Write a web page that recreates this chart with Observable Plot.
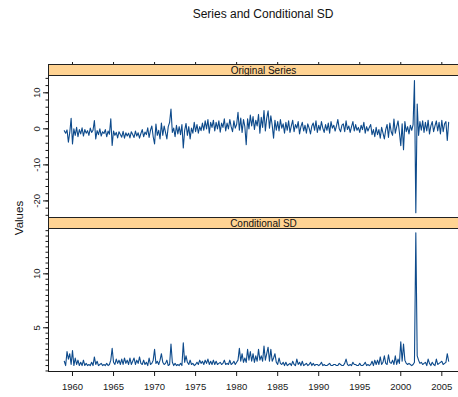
<!DOCTYPE html>
<html><head><meta charset="utf-8">
<script src="https://cdn.jsdelivr.net/npm/d3@7"></script>
<script src="https://cdn.jsdelivr.net/npm/@observablehq/plot@0.6"></script>
<style>
html,body{margin:0;padding:0;background:#fff;overflow:hidden}
#chart{position:relative;width:458px;height:397px;overflow:hidden;font-family:"Liberation Sans",Arial,Helvetica,sans-serif;color:#111}
#chart svg{position:absolute;left:0;overflow:visible;max-width:none !important}
.strip{position:absolute;left:48px;width:431px;height:12px;box-sizing:border-box;border:1px solid #222;background:#ffd393;font-size:10px;line-height:10px;text-align:center;padding-top:1px;white-space:nowrap;z-index:2}
#title{position:absolute;left:48px;width:430px;top:7.5px;text-align:center;font-size:12px;line-height:12px;white-space:nowrap}
#ylab{position:absolute;left:19px;top:218px;transform:translate(-50%,-50%) rotate(-90deg);font-size:11.5px;white-space:nowrap}
</style></head>
<body>
<div id="chart">
  <div id="title"></div>
  <div id="ylab"></div>
</div>
<script>
// ---- data (bi-monthly readings, 6 per year, starting 1959) ----
const startYear = 1959;
const perYear = 6;
const original = [
  -0.5,-1.2,-0.3,-3.7,-1.0, 2.9,  // 1959
  -4.2, 0.0,-1.8, 0.4,-2.2,-0.2,  // 1960
  -1.4, 0.3,-2.0,-0.2,-1.2,-0.5,  // 1961
  -1.8, 0.2,-1.0,-0.4, 2.3,-2.8,  // 1962
  -0.5,-1.6, 0.0,-2.0,-0.8,-1.3,  // 1963
  -0.2,-2.2,-0.6,-1.5, 2.8,-4.6,  // 1964
  -0.6,-1.8,-1.0,-2.5,-0.8,-1.6,  // 1965
  -2.3,-0.7,-2.6,-1.1,-2.0,-1.2,  // 1966
  -2.5,-0.8,-1.6,-2.4,-0.6,-2.0,  // 1967
  -1.1,-2.6,-1.3,-0.2,-2.2,-0.9,  // 1968
  -1.6, 0.3,-2.4,-0.4, 0.8,-2.2,  // 1969
  -4.2, 1.3,-1.8,-0.4,-2.8, 1.6,  // 1970
  -1.8, 0.8,-1.0,-2.8, 0.6, 1.8,  // 1971
   5.5,-1.0, 0.2,-2.2, 1.0,-1.4,  // 1972
   0.6,-1.6, 1.2,-5.3,-0.4, 1.5,  // 1973
  -1.8, 0.6,-2.8, 0.2,-1.2, 1.8,  // 1974
  -0.8, 1.2,-1.2, 0.6,-0.5, 1.6,  // 1975
  -0.4, 2.2, 0.0, 2.6,-1.2, 1.8,  // 1976
   0.4, 2.4,-0.6, 1.8, 0.0, 2.2,  // 1977
  -0.9, 1.6, 0.4, 2.8,-0.6, 1.6,  // 1978
   0.0, 2.6, 0.6,-0.8, 2.2, 0.2,  // 1979
   1.2, 4.6,-0.4, 3.0,-1.0, 2.6,  // 1980
   0.6,-4.4, 2.8, 0.0, 3.8, 0.8,  // 1981
   3.4,-0.2, 2.4, 0.8, 4.0,-1.2,  // 1982
   3.2, 0.4, 5.1,-0.6, 3.0, 5.0,  // 1983
   0.2, 3.6, 1.0,-2.6, 2.4,-0.4,  // 1984
   2.0,-0.6, 2.6, 0.2, 1.4,-1.2,  // 1985
   1.8,-0.4, 2.2,-1.0, 0.8, 2.4,  // 1986
  -0.8, 1.2, 0.2, 2.0,-1.4, 0.6,  // 1987
   1.8,-0.6, 1.0,-1.2, 1.4, 0.2,  // 1988
  -1.4, 0.8, 1.6,-0.4, 2.2,-1.0,  // 1989
   1.0,-0.4, 2.0, 0.2,-1.0, 1.2,  // 1990
  -0.4, 1.6,-1.2, 2.0, 0.2, 1.0,  // 1991
  -0.6, 0.8, 2.6, 0.0,-0.8, 1.0,  // 1992
   1.4,-0.8, 2.2,-0.2, 0.8,-1.0,  // 1993
   0.6, 2.0,-0.6, 1.2,-0.4, 0.4,  // 1994
  -1.0, 1.0,-0.2, 1.8,-1.2, 0.6,  // 1995
  -0.6, 0.4, 1.2,-1.6,-0.2,-2.2,  // 1996
   0.4,-1.6,-0.2,-2.6, 0.4,-1.2,  // 1997
  -2.8,-0.2, 1.2,-2.4, 1.6,-0.8,  // 1998
  -1.8, 2.7,-1.2, 0.6, 2.2,-1.0,  // 1999
  -4.7, 1.4,-5.8, 2.0,-0.8, 0.6,  // 2000
  -1.4, 1.0,-0.4, 1.2,13.4,-23.3, // 2001
   6.9,-1.8, 2.0,-0.4, 2.2,-1.0,  // 2002
   1.8,-0.6, 2.4,-1.4, 0.8, 2.0,  // 2003
  -0.8, 0.8, 2.2,-0.6, 1.8,-1.4,  // 2004
   2.4,-0.8, 1.4, 2.0,-3.2, 1.8   // 2005
];
const condSD = [
  1.9,1.5,2.8,2.1,2.6,1.6,  // 1959
  2.9,1.5,2.2,1.6,2.0,1.5,  // 1960
  1.8,1.5,2.0,1.5,1.7,1.5,  // 1961
  1.6,1.5,1.8,1.5,2.3,1.6,  // 1962
  1.9,1.5,1.6,1.7,1.5,1.6,  // 1963
  1.5,1.7,1.5,1.6,2.0,3.1,  // 1964
  1.8,1.6,2.1,1.7,2.0,1.6,  // 1965
  2.1,1.6,2.2,1.7,2.0,1.6,  // 1966
  2.2,1.6,1.9,2.2,1.6,2.0,  // 1967
  1.7,2.3,1.7,1.6,2.0,1.6,  // 1968
  1.8,1.5,2.2,1.6,1.7,2.0,  // 1969
  3.0,1.7,1.9,1.6,2.0,2.6,  // 1970
  1.8,1.6,1.7,2.0,1.5,1.6,  // 1971
  3.5,1.8,1.5,1.7,1.5,1.6,  // 1972
  1.5,1.7,1.5,3.6,1.8,2.4,  // 1973
  1.8,1.6,2.0,1.6,1.7,1.5,  // 1974
  1.6,1.8,1.6,2.0,1.7,1.9,  // 1975
  1.6,2.0,1.7,2.1,1.6,1.9,  // 1976
  1.6,2.0,1.6,1.9,1.6,1.7,  // 1977
  1.8,1.6,1.7,2.0,1.6,1.7,  // 1978
  1.6,2.0,1.6,1.7,1.9,1.6,  // 1979
  1.8,2.0,3.1,1.9,2.6,1.8,  // 1980
  2.2,1.8,3.0,2.0,2.8,1.9,  // 1981
  2.6,1.8,2.4,1.9,3.0,2.0,  // 1982
  2.4,1.9,3.3,2.0,2.6,3.2,  // 1983
  1.9,3.0,1.9,2.2,2.6,1.8,  // 1984
  1.6,2.2,1.7,1.6,1.8,1.5,  // 1985
  1.8,1.5,1.6,1.7,1.5,1.9,  // 1986
  1.6,1.5,2.1,1.6,1.8,1.5,  // 1987
  1.9,1.5,1.6,1.7,1.5,1.6,  // 1988
  1.8,1.5,1.7,1.5,1.6,1.6,  // 1989
  1.5,1.6,1.8,1.5,1.6,1.5,  // 1990
  1.5,1.6,1.7,1.5,1.5,1.6,  // 1991
  1.6,1.5,1.5,1.7,1.6,1.5,  // 1992
  1.5,1.7,2.1,1.6,1.5,1.6,  // 1993
  1.5,1.8,1.6,1.6,1.5,1.5,  // 1994
  1.7,1.5,1.5,1.6,1.8,1.5,  // 1995
  1.6,1.5,1.6,1.9,1.5,2.0,  // 1996
  1.6,2.0,1.6,2.3,1.6,1.8,  // 1997
  2.4,1.7,1.6,2.5,1.8,1.7,  // 1998
  2.0,1.6,2.4,1.6,2.1,1.7,  // 1999
  3.7,1.9,3.5,2.0,1.7,1.6,  // 2000
  1.7,1.6,1.5,1.6,1.8,13.8, // 2001
  2.4,2.0,1.7,1.8,1.6,1.7,  // 2002
  1.8,1.5,2.1,1.7,1.5,1.8,  // 2003
  1.6,1.5,2.1,1.6,1.7,1.8,  // 2004
  1.9,1.6,1.7,1.8,2.6,1.9   // 2005
];
const xTicks = [1960,1965,1970,1975,1980,1985,1990,1995,2000,2005];
const topMajor = [-20,-10,0,10];
const topMinor = [-24,-22,-20,-18,-16,-14,-12,-10,-8,-6,-4,-2,0,2,4,6,8,10,12,14];
const botMajor = [5,10];
const botMinor = [1,1.5,2,2.5,3,3.5,4,4.5,5,5.5,6,6.5,7,7.5,8,8.5,9,9.5,10,10.5,11,11.5,12,12.5,13,13.5,14];
const panelNames = ["Original Series","Conditional SD"];
const titleText = "Series and Conditional SD";
const yLabel = "Values";

// ---- build ----
const rows1 = original.map((v,i)=>({t:startYear+i/perYear, v}));
const rows2 = condSD.map((v,i)=>({t:startYear+i/perYear, v}));
const xDomain = [1957.076, 2009.47];
const lineColor = "#0d4a8b";
const ink = "#1a1a1a";
const font = '"Liberation Sans", Arial, Helvetica, sans-serif';

function yLabels(ticks){
  return Plot.text(ticks, {y:d=>d, text:d=>String(d), frameAnchor:"left", dx:-11.5, rotate:-90,
    textAnchor:"middle", lineAnchor:"middle", fontSize:9.5, fill:ink});
}

const p1 = Plot.plot({
  width:480, height:167, marginLeft:48, marginRight:2, marginTop:25, marginBottom:0,
  x:{domain:xDomain, axis:null},
  y:{domain:[-24.6,14.8], axis:null},
  style:{fontFamily:font, background:"transparent", maxWidth:"none"},
  marks:[
    Plot.line(rows1, {x:"t", y:"v", stroke:lineColor, strokeWidth:1.1}),
    Plot.frame({stroke:ink}),
    Plot.axisX(xTicks, {anchor:"top", tickSize:14, fill:"none", stroke:ink, label:null}),
    Plot.axisY(topMinor, {anchor:"left", tickSize:2.5, fill:"none", stroke:ink, label:null}),
    Plot.axisY(topMajor, {anchor:"left", tickSize:5, fill:"none", stroke:ink, label:null}),
    yLabels(topMajor)
  ]
});
p1.style.top = "50px";
p1.style.maxWidth = "none";

const p2 = Plot.plot({
  width:480, height:180, marginLeft:48, marginRight:2, marginTop:11, marginBottom:26,
  x:{domain:xDomain, axis:null},
  y:{domain:[0.95,14.2], axis:null},
  style:{fontFamily:font, background:"transparent", maxWidth:"none"},
  marks:[
    Plot.line(rows2, {x:"t", y:"v", stroke:lineColor, strokeWidth:1.1}),
    Plot.frame({stroke:ink}),
    Plot.axisX(xTicks, {anchor:"bottom", tickSize:5, tickPadding:6.5, fontSize:9.5, stroke:ink, fill:ink,
      tickFormat:d=>String(d), label:null}),
    Plot.axisY(botMinor, {anchor:"left", tickSize:2.5, fill:"none", stroke:ink, label:null}),
    Plot.axisY(botMajor, {anchor:"left", tickSize:5, fill:"none", stroke:ink, label:null}),
    yLabels(botMajor)
  ]
});
p2.style.top = "217px";
p2.style.maxWidth = "none";

const chart = document.getElementById("chart");
chart.appendChild(p1);
chart.appendChild(p2);
document.getElementById("title").textContent = titleText;
document.getElementById("ylab").textContent = yLabel;
[[64, panelNames[0]], [217, panelNames[1]]].forEach(([top, name])=>{
  const s = document.createElement("div");
  s.className = "strip";
  s.style.top = top + "px";
  s.textContent = name;
  chart.appendChild(s);
});
</script>
</body></html>
